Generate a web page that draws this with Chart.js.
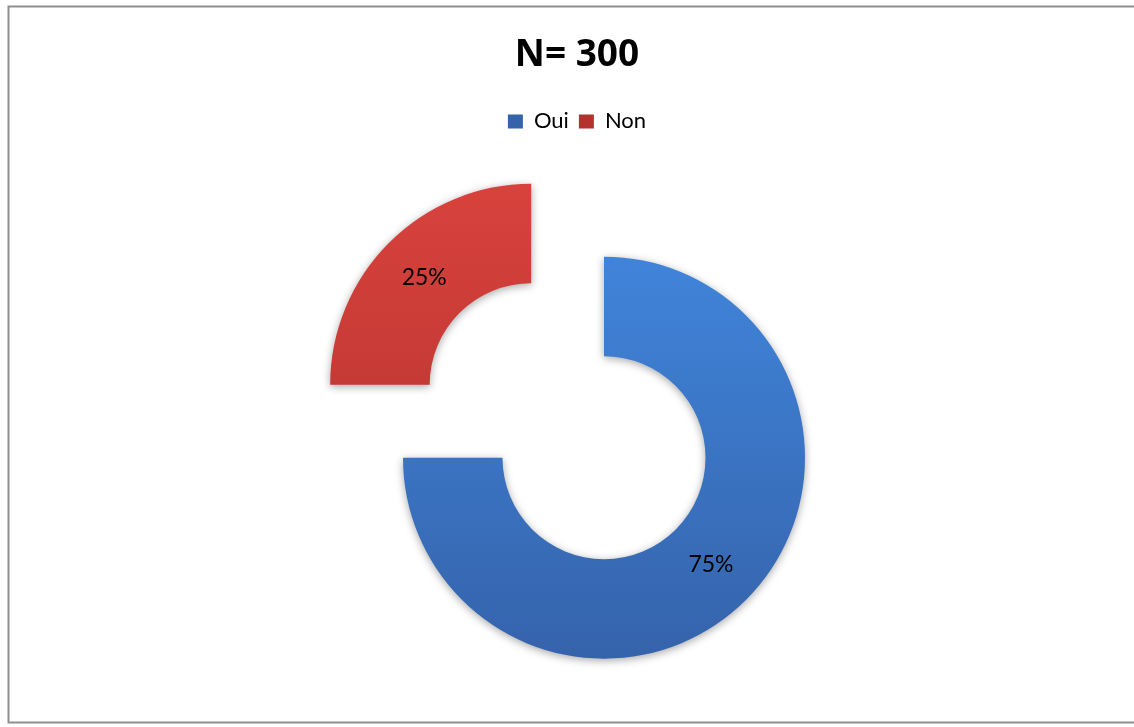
<!DOCTYPE html>
<html lang="fr">
<head>
<meta charset="utf-8">
<title>N= 300</title>
<script src="https://cdn.jsdelivr.net/npm/chart.js@4.4.1/dist/chart.umd.min.js"></script>
<style>
  html, body { margin: 0; padding: 0; background: #fff; overflow: hidden; }
  #wrap { width: 1134px; height: 727px; overflow: hidden; }
  /* taller than the window so the ring centre sits lower */
  #box { position: relative; width: 1134px; height: 773px; }
</style>
</head>
<body>
<div id="wrap"><div id="box"><canvas id="chart"></canvas></div></div>
<script>
const sampleSize = 300;
const labels = ['Oui', 'Non'];
const values = [75, 25];

// top / bottom colour of each slice
const fills = [['#4084da', '#3563ab'], ['#d8423d', '#b3322d']];
// "Non" is pulled out of the ring (Chart.js moves an arc by offset / 4)
const explode = [0, 412];
const ringRadius = 201;

function ringFill(ctx) {
  const {chart, dataIndex} = ctx;
  const area = chart.chartArea;
  const [top, bottom] = fills[dataIndex];
  if (!area) return top;
  const cy = (area.top + area.bottom) / 2;
  const g = chart.ctx.createLinearGradient(0, cy - ringRadius, 0, cy + ringRadius);
  g.addColorStop(0, top);
  g.addColorStop(1, bottom);
  return g;
}

// white background and grey frame around the whole chart
const frame = {
  id: 'frame',
  beforeDraw(chart) {
    const c = chart.ctx;
    c.save();
    c.fillStyle = '#fff';
    c.fillRect(0, 0, chart.width, chart.height);
    c.strokeStyle = '#8f8f8f';
    c.lineWidth = 2;
    c.strokeRect(8.5, 6.5, chart.width, 716);
    c.restore();
  }
};

// soft drop shadow under the slices
const ringShadow = {
  id: 'ringShadow',
  beforeDatasetsDraw(chart) {
    const c = chart.ctx;
    c.save();
    c.shadowColor = 'rgba(0, 0, 0, 0.35)';
    c.shadowBlur = 8;
    c.shadowOffsetY = 2;
  },
  afterDatasetsDraw(chart) {
    chart.ctx.restore();
  }
};

// percentage in the middle of each slice
const sliceLabels = {
  id: 'sliceLabels',
  afterDatasetsDraw(chart) {
    const c = chart.ctx;
    const meta = chart.getDatasetMeta(0);
    const sum = values.reduce((a, b) => a + b, 0);
    c.save();
    c.font = '23px Lato';
    c.fillStyle = '#000';
    c.textAlign = 'center';
    c.textBaseline = 'middle';
    meta.data.forEach((arc, i) => {
      const mid = (arc.startAngle + arc.endAngle) / 2;
      const r = (arc.innerRadius + arc.outerRadius) / 2 + (arc.options.offset || 0) / 4;
      const pct = Math.round(values[i] / sum * 100) + '%';
      c.fillText(pct, arc.x + Math.cos(mid) * r, arc.y + Math.sin(mid) * r);
    });
    c.restore();
  }
};

new Chart(document.getElementById('chart'), {
  type: 'doughnut',
  data: {
    labels: labels,
    datasets: [{
      data: values,
      backgroundColor: ringFill,
      borderWidth: 0,
      offset: explode
    }]
  },
  options: {
    responsive: true,
    maintainAspectRatio: false,
    animation: false,
    events: [],
    radius: ringRadius,
    cutout: '50.5%',
    layout: {
      padding: { top: 8, left: 20, right: 0, bottom: 0 }
    },
    plugins: {
      title: {
        display: true,
        text: 'N= ' + sampleSize,
        color: '#000',
        font: { family: 'Open Sans', size: 37, weight: 'bold' },
        padding: { top: 25, bottom: 23 }
      },
      // empty left box: keeps the ring to the right of the title
      subtitle: {
        display: true,
        position: 'left',
        text: '',
        padding: 0,
        font: { size: 54, lineHeight: 1 }
      },
      legend: {
        position: 'top',
        labels: {
          color: '#000',
          boxWidth: 15,
          boxHeight: 14,
          padding: 10,
          font: { family: 'Lato', size: 22 },
          // legend squares use the darker slice shade
          generateLabels(chart) {
            const items = Chart.overrides.doughnut.plugins.legend.labels.generateLabels(chart);
            items.forEach((item, i) => { item.fillStyle = fills[i][1]; });
            return items;
          }
        }
      },
      tooltip: { enabled: false }
    }
  },
  plugins: [frame, ringShadow, sliceLabels]
});
</script>
</body>
</html>
